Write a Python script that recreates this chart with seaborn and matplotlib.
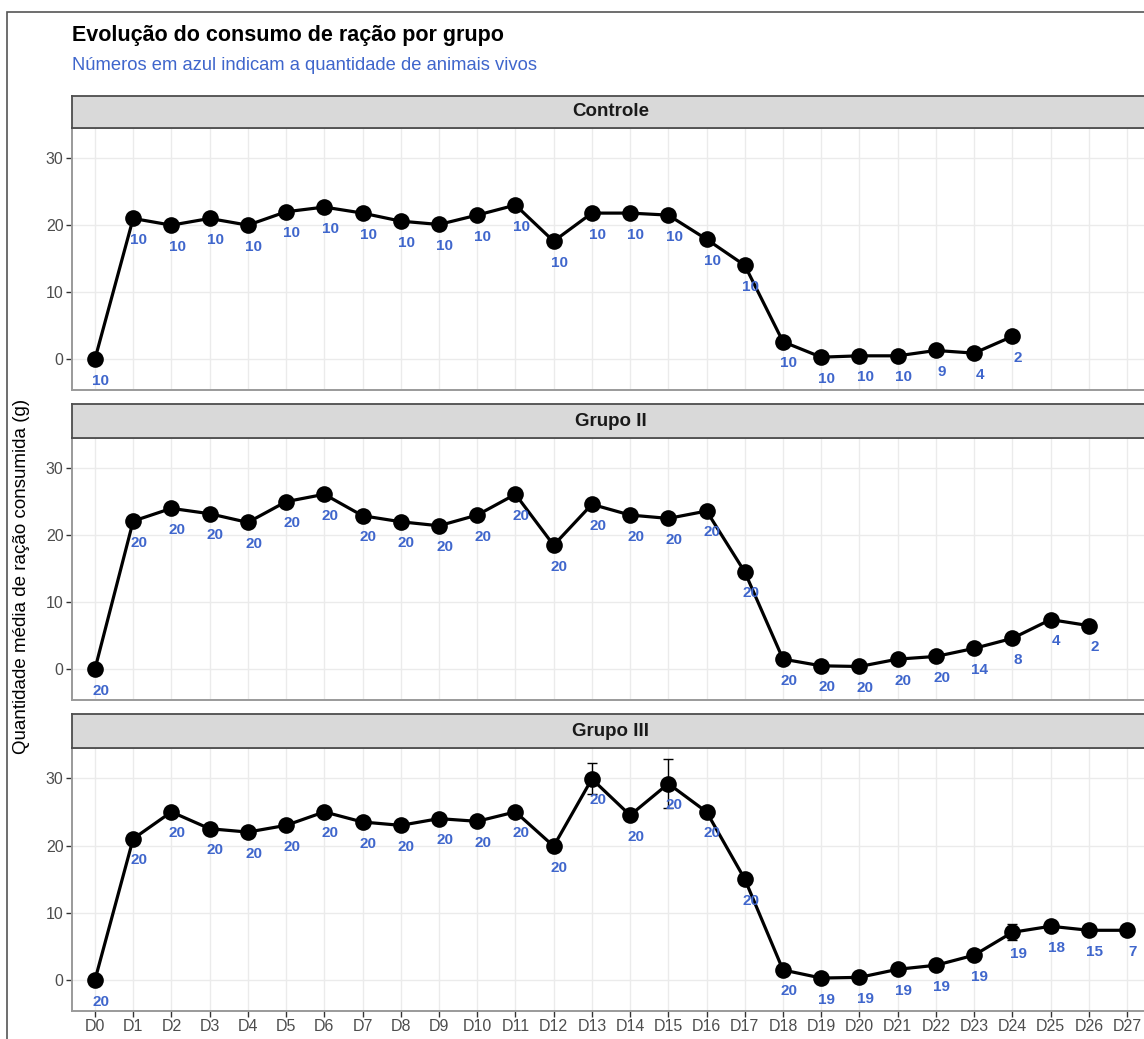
import matplotlib
matplotlib.use("Agg")
import matplotlib.pyplot as plt
import numpy as np
import pandas as pd
import seaborn as sns
from matplotlib.patches import Rectangle

# ---- data -------------------------------------------------------------
dias = ["D0", "D1", "D2", "D3", "D4", "D5", "D6", "D7", "D8", "D9", "D10",
        "D11", "D12", "D13", "D14", "D15", "D16", "D17", "D18", "D19", "D20",
        "D21", "D22", "D23", "D24", "D25", "D26", "D27"]

grupos = ["Controle", "Grupo II", "Grupo III"]

controle_consumo = [0.0, 21.0, 20.0, 21.0, 20.0, 22.0, 22.7, 21.8, 20.6, 20.1,
                    21.5, 23.0, 17.6, 21.8, 21.8, 21.5, 17.9, 14.0, 2.6, 0.3,
                    0.5, 0.5, 1.3, 0.9, 3.4]
controle_vivos = [10, 10, 10, 10, 10, 10, 10, 10, 10, 10, 10, 10, 10, 10, 10,
                  10, 10, 10, 10, 10, 10, 10, 9, 4, 2]
controle_erro = [0, 0, 0, 0, 0, 0, 0, 0, 0, 0, 0, 0, 0, 0, 0, 0, 0, 0, 0, 0,
                 0, 0, 0, 0, 0]

grupo2_consumo = [0.0, 22.1, 24.0, 23.2, 21.9, 25.0, 26.1, 22.9, 22.0, 21.4,
                  23.0, 26.1, 18.5, 24.6, 23.0, 22.5, 23.6, 14.5, 1.5, 0.5,
                  0.4, 1.5, 1.9, 3.1, 4.6, 7.4, 6.5]
grupo2_vivos = [20, 20, 20, 20, 20, 20, 20, 20, 20, 20, 20, 20, 20, 20, 20,
                20, 20, 20, 20, 20, 20, 20, 20, 14, 8, 4, 2]
grupo2_erro = [0, 0, 0, 0, 0, 0, 0, 0, 0, 0, 0, 0, 0, 0, 0, 0, 0, 0, 0, 0,
               0, 0, 0, 0, 0, 0, 0]

grupo3_consumo = [0.0, 21.0, 25.0, 22.5, 22.0, 23.0, 25.0, 23.5, 23.0, 24.0,
                  23.6, 25.0, 19.9, 29.9, 24.5, 29.2, 25.0, 15.0, 1.5, 0.3,
                  0.4, 1.6, 2.2, 3.7, 7.1, 8.0, 7.4, 7.4]
grupo3_vivos = [20, 20, 20, 20, 20, 20, 20, 20, 20, 20, 20, 20, 20, 20, 20,
                20, 20, 20, 20, 19, 19, 19, 19, 19, 19, 18, 15, 7]
grupo3_erro = [0, 0, 0, 0, 0, 0, 0, 0, 0, 0, 0, 0, 0, 2.3, 0, 3.6, 0, 0, 0, 0,
               0, 0, 0, 0, 1.2, 0, 0, 0]

series = {
    "Controle": (controle_consumo, controle_vivos, controle_erro),
    "Grupo II": (grupo2_consumo, grupo2_vivos, grupo2_erro),
    "Grupo III": (grupo3_consumo, grupo3_vivos, grupo3_erro),
}

frames = []
for g in grupos:
    cons, vivos, erro = series[g]
    n = len(cons)
    frames.append(pd.DataFrame({
        "grupo": g,
        "dia": dias[:n],
        "pos": range(n),
        "consumo": cons,
        "vivos": vivos,
        "erro": erro,
    }))
df = pd.concat(frames, ignore_index=True)

# ---- style ------------------------------------------------------------
sns.set_theme(style="white")
plt.rcParams["font.family"] = ["Liberation Sans", "DejaVu Sans"]

AZUL = "#3F66CC"
W, H = 1144, 1039
fig = plt.figure(figsize=(W / 100, H / 100), dpi=100)
fig.patch.set_facecolor("white")

def fx(px):
    return px / W

def fy(py):
    return 1 - py / H

left_px, right_px = 72, 1150
layout = {  # strip top, panel top, panel bottom (pixels from top)
    "Controle": (96, 128, 390),
    "Grupo II": (404, 438, 700),
    "Grupo III": (714, 748, 1011),
}

for i, g in enumerate(grupos):
    st, pt, pb = layout[g]
    ultimo = i == len(grupos) - 1
    ax = fig.add_axes([fx(left_px), fy(pb), fx(right_px - left_px),
                       (pb - pt) / H])
    sub = df[df["grupo"] == g]

    # grid
    for x in range(len(dias)):
        ax.axvline(x, color="#EBEBEB", lw=1.0, zorder=0)
    for y in [0, 10, 20, 30]:
        ax.axhline(y, color="#EBEBEB", lw=1.0, zorder=0)

    sns.lineplot(data=sub, x="pos", y="consumo", ax=ax, color="black",
                 lw=2.3, marker="o", markersize=12, markeredgewidth=0,
                 zorder=3, legend=False)
    err = sub[sub["erro"] > 0]
    if len(err):
        ax.errorbar(err["pos"], err["consumo"], yerr=err["erro"], fmt="none",
                    ecolor="black", elinewidth=1.0, capsize=3.4,
                    capthick=1.0, zorder=4)
    for _, r in sub.iterrows():
        ax.text(r["pos"] + 0.15, r["consumo"] - 3.2, str(int(r["vivos"])),
                color=AZUL, fontsize=11, fontweight="bold",
                ha="center", va="center", zorder=5)

    ax.set_xlim(-0.6, len(dias) - 1 + 0.6)
    ax.set_ylim(-4.6, 34.5)
    ax.set_yticks([0, 10, 20, 30])
    ax.set_yticklabels(["0", "10", "20", "30"])
    ax.set_xticks(range(len(dias)))
    ax.set_xticklabels(dias if ultimo else [])
    ax.tick_params(axis="both", length=4, width=1, color="#333333",
                   labelcolor="#4D4D4D", labelsize=11.5, pad=2,
                   direction="out", left=True)
    ax.tick_params(axis="x", bottom=ultimo)
    ax.set_xlabel("")
    ax.set_ylabel("")
    ax.set_facecolor("white")
    for sp in ax.spines.values():
        sp.set_color("#9a9a9a")
        sp.set_linewidth(1.4)

    # facet strip
    sax = fig.add_axes([fx(left_px), fy(pt), fx(right_px - left_px),
                        (pt - st) / H])
    sax.set_facecolor("#D9D9D9")
    sax.set_xticks([])
    sax.set_yticks([])
    for sp in sax.spines.values():
        sp.set_color("#4d4d4d")
        sp.set_linewidth(1.3)
    sax.text(0.5, 0.5, g, transform=sax.transAxes, ha="center", va="center",
             fontsize=13.5, fontweight="bold", color="#1A1A1A")

fig.text(fx(72), fy(35), "Evolução do consumo de ração por grupo",
         fontsize=15.5, fontweight="bold", color="black", ha="left",
         va="center")
fig.text(fx(72), fy(66), "Números em azul indicam a quantidade de animais vivos",
         fontsize=13.2, color=AZUL, ha="left", va="center")
fig.text(fx(22), fy(576), "Quantidade média de ração consumida (g)",
         fontsize=13.5, color="black", rotation=90, ha="center", va="center")

# outer frame
fig.patches.append(Rectangle((fx(7), fy(1100)), fx(1200), (1100 - 12) / H,
                             transform=fig.transFigure, fill=False,
                             edgecolor="#555555", lw=1.2, zorder=10))

fig.savefig("out.png", dpi=100)
